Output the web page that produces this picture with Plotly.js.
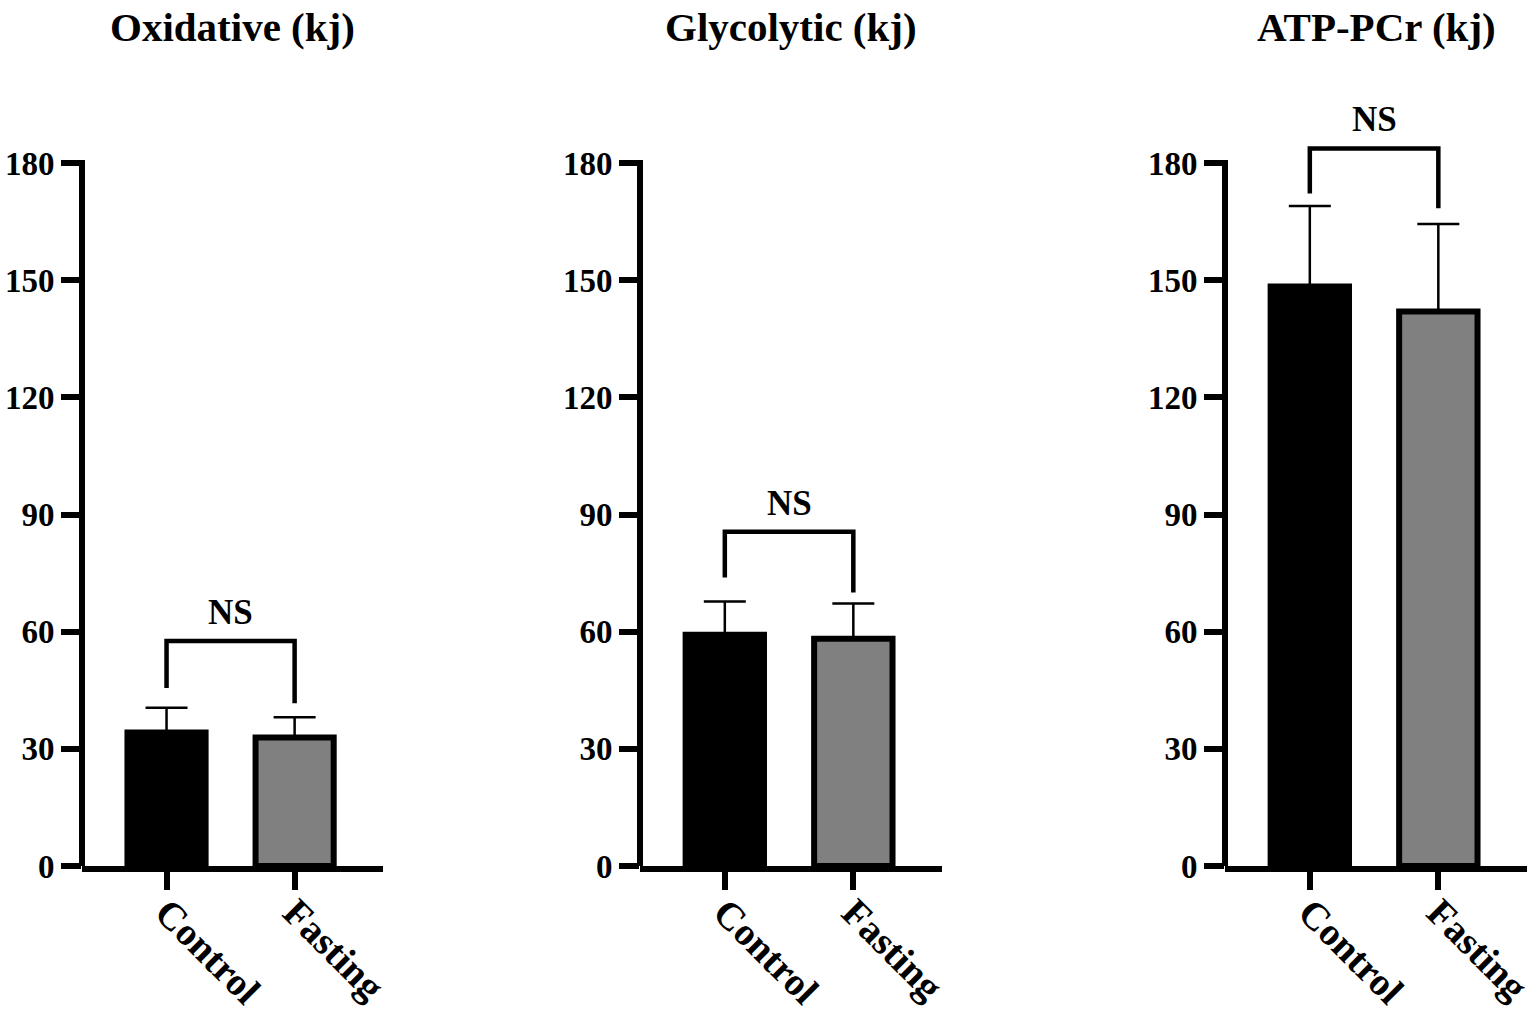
<!DOCTYPE html>
<html><head><meta charset="utf-8">
<script src="https://cdn.plot.ly/plotly-3.0.1.min.js"></script>
<style>html,body{margin:0;padding:0;background:#fff}</style>
</head><body><div id="chart" style="width:1536px;height:1026px"></div>
<script>
// ---- data ----
const categories = ['Control', 'Fasting'];
const panelTitles = ['Oxidative (kj)', 'Glycolytic (kj)', 'ATP-PCr (kj)'];
const oxidativeMeans = [34.2, 32.9];
const oxidativeSD = [6.3, 5.2];
const glycolyticMeans = [59.2, 58.2];
const glycolyticSD = [8.5, 9.0];
const atpPcrMeans = [148.4, 142.0];
const atpPcrSD = [20.6, 22.4];
const yTickValues = [0, 30, 60, 90, 120, 150, 180];
const sigLabels = ['NS', 'NS', 'NS'];
const barColors = ['#000000', '#808080'];

// ---- layout config ----
const FONT = 'Liberation Serif, Times New Roman, serif';
const panels = [
  {means: oxidativeMeans, sd: oxidativeSD, domain: [82/1536, 383/1536],
   bracket: {top: 57.6, left: 45.6, right: 41.7, label: 64.8}},
  {means: glycolyticMeans, sd: glycolyticSD, domain: [640/1536, 942/1536],
   bracket: {top: 85.6, left: 73.9, right: 70.0, label: 92.9}},
  {means: atpPcrMeans, sd: atpPcrSD, domain: [1225/1536, 1527/1536],
   bracket: {top: 183.7, left: 172.2, right: 168.4, label: 191.2}}
];
const yDomain = [1 - 866/1026, 1 - 84.9/1026];

const traces = [];
const layout = {
  width: 1536, height: 1026,
  margin: {l: 0, r: 0, t: 0, b: 0},
  paper_bgcolor: '#ffffff', plot_bgcolor: '#ffffff',
  showlegend: false,
  font: {family: FONT, color: '#000', weight: 'bold'},
  shapes: [], annotations: []
};

panels.forEach((p, i) => {
  const s = i === 0 ? '' : String(i + 1);
  traces.push({
    type: 'bar', x: categories, y: p.means,
    xaxis: 'x' + s, yaxis: 'y' + s,
    width: 0.61,
    marker: {color: barColors, line: {color: '#000', width: 6}},
    error_y: {type: 'data', symmetric: false, array: p.sd, arrayminus: [0, 0],
              color: '#000', thickness: 2.5, width: 21},
    hoverinfo: 'skip'
  });
  layout['xaxis' + s] = {
    domain: p.domain, anchor: 'y' + s, type: 'category',
    categoryorder: 'array', categoryarray: categories,
    range: [-0.66, 1.69],
    showline: true, linewidth: 6, linecolor: '#000',
    ticks: 'outside', ticklen: 18, tickwidth: 6, tickcolor: '#000',
    tickangle: 45, ticklabelstandoff: -16,
    tickfont: {family: FONT, size: 39, color: '#000', weight: 'bold'},
    showgrid: false, zeroline: false, fixedrange: true
  };
  layout['yaxis' + s] = {
    domain: yDomain, anchor: 'x' + s, range: [0, 200],
    tickmode: 'array', tickvals: yTickValues,
    ticks: 'outside', ticklen: 20, tickwidth: 6, tickcolor: '#000',
    tickfont: {family: FONT, size: 33, color: '#000', weight: 'bold'},
    showline: false, showgrid: false, zeroline: false, fixedrange: true
  };
  // y axis line (stops at 180)
  layout.shapes.push({
    type: 'line', xref: 'x' + s + ' domain', yref: 'y' + s,
    x0: 0, x1: 0, y0: 0, y1: 180.8,
    line: {color: '#000', width: 6}
  });
  // significance bracket
  const b = p.bracket;
  const c0 = categories.indexOf('Control'), c1 = categories.indexOf('Fasting');
  layout.shapes.push({
    type: 'path', xref: 'x' + s, yref: 'y' + s,
    path: `M ${c0},${b.left} L ${c0},${b.top} L ${c1},${b.top} L ${c1},${b.right}`,
    line: {color: '#000', width: 4.5}
  });
  layout.annotations.push({
    xref: 'x' + s, yref: 'y' + s, x: (c0 + c1) / 2, y: b.label,
    text: sigLabels[i], showarrow: false, yanchor: 'middle', xanchor: 'center',
    font: {family: FONT, size: 35, color: '#000', weight: 'bold'}
  });
  layout.annotations.push({
    xref: 'x' + s + ' domain', yref: 'paper', x: 0.5, y: 1 - 27/1026,
    text: panelTitles[i], showarrow: false, yanchor: 'middle', xanchor: 'center',
    font: {family: FONT, size: 41, color: '#000', weight: 'bold'}
  });
});

Plotly.newPlot('chart', traces, layout, {displayModeBar: false, staticPlot: true});
</script>
</body></html>
